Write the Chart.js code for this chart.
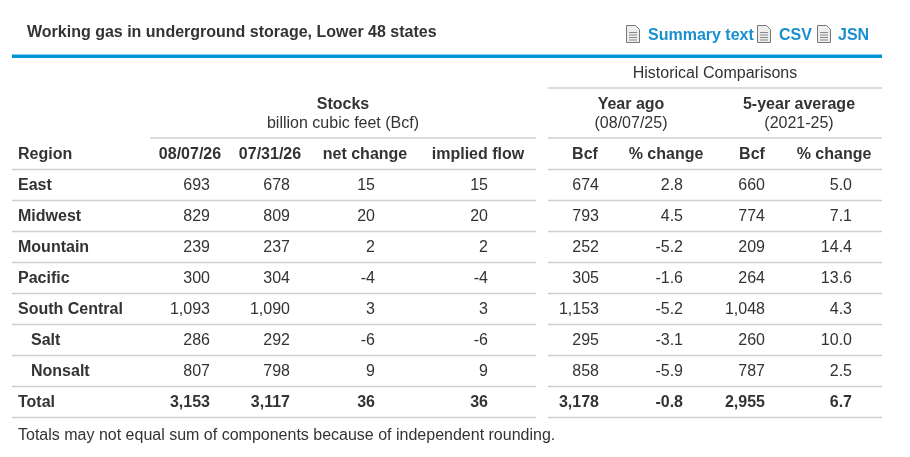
<!DOCTYPE html>
<html><head><meta charset="utf-8">
<script src="https://cdn.jsdelivr.net/npm/chart.js@4"></script>
<style>html,body{margin:0;padding:0;background:#fff}#wrap{width:910px;height:457px;position:relative}</style>
</head><body><div id="wrap"><canvas id="c"></canvas></div>
<script>
const title = "Working gas in underground storage, Lower 48 states";
const regions = ["Region","East","Midwest","Mountain","Pacific","South Central","Salt","Nonsalt","Total"];
const columns = ["08/07/26","07/31/26","net change","implied flow","Bcf","% change","Bcf","% change"];
const stocksCur = [693,829,239,300,1093,286,807,3153];
const stocksPrev = [678,809,237,304,1090,292,798,3117];
const netChange = [15,20,2,-4,3,-6,9,36];
const impliedFlow = [15,20,2,-4,3,-6,9,36];
const yearAgoBcf = [674,793,252,305,1153,295,858,3178];
const yearAgoPct = [2.8,4.5,-5.2,-1.6,-5.2,-3.1,-5.9,-0.8];
const fiveYrBcf = [660,774,209,264,1048,260,787,2955];
const fiveYrPct = [5.0,7.1,14.4,13.6,4.3,10.0,2.5,6.7];
const series = [stocksCur,stocksPrev,netChange,impliedFlow,yearAgoBcf,yearAgoPct,fiveYrBcf,fiveYrPct];
const isPct = [false,false,false,false,false,true,false,true];
const footnote = "Totals may not equal sum of components because of independent rounding.";

const colRight = [210,290,375,488,599,683,765,852];
const colHead = [190,270,365,478,585,666,752,834];
const TXT = '#333';
const FONT = '"Liberation Sans", Arial, sans-serif';
const FS = '16px ';
const DY = 1.5;

function fmt(v,p){ return p ? v.toFixed(1) : v.toLocaleString('en-US'); }
function icon(ctx,x,y){
  ctx.save();
  ctx.fillStyle='#eeeeee'; ctx.strokeStyle='#777'; ctx.lineWidth=1;
  ctx.beginPath(); ctx.moveTo(x+0.5,y+0.5); ctx.lineTo(x+9.5,y+0.5); ctx.lineTo(x+13.5,y+4.5); ctx.lineTo(x+13.5,y+17.5); ctx.lineTo(x+0.5,y+17.5); ctx.closePath(); ctx.fill(); ctx.stroke();
  ctx.strokeStyle='#888';
  for(let i=0;i<4;i++){ctx.beginPath();ctx.moveTo(x+3,y+7.5+i*2.5);ctx.lineTo(x+11,y+7.5+i*2.5);ctx.stroke();}
  ctx.restore();
}

const tablePlugin = {
  id:'table',
  afterDraw(chart){
    const ctx = chart.ctx, xs = chart.scales.x, ys = chart.scales.y;
    const X = v => xs.getPixelForValue(v);
    ctx.save();
    ctx.textBaseline='middle';
    ctx.fillStyle=TXT; ctx.font='bold '+FS+FONT; ctx.textAlign='left';
    ctx.fillText(title, 27, 31+DY);
    ctx.fillStyle='#1a8fd0'; ctx.font='bold '+FS+FONT;
    icon(ctx,626,25); ctx.fillText("Summary text",648,34+DY);
    icon(ctx,757,25); ctx.fillText("CSV",779,34+DY);
    icon(ctx,817,25); ctx.fillText("JSN",838,34+DY);
    ctx.fillStyle='#0096d6'; ctx.fillRect(12,54.5,870,3.5);
    ctx.fillStyle=TXT; ctx.textAlign='center';
    ctx.font=FS+FONT; ctx.fillText("Historical Comparisons",715,72+DY);
    ctx.font='bold '+FS+FONT;
    ctx.fillText("Stocks",343,103+DY); ctx.fillText("Year ago",631,103+DY); ctx.fillText("5-year average",799,103+DY);
    ctx.font=FS+FONT;
    ctx.fillText("billion cubic feet (Bcf)",343,122+DY); ctx.fillText("(08/07/25)",631,122+DY); ctx.fillText("(2021-25)",799,122+DY);
    ctx.strokeStyle='#cfcfcf'; ctx.lineWidth=1.5;
    const hl=(x1,x2,y)=>{ctx.beginPath();ctx.moveTo(x1,y);ctx.lineTo(x2,y);ctx.stroke();};
    hl(548,882,88); hl(150,536,138); hl(548,882,138);
    const step = ys.getPixelForValue(regions[1]) - ys.getPixelForValue(regions[0]);
    regions.forEach(r=>{ const y=Math.round(ys.getPixelForValue(r)+step/2)+0.5; hl(12,536,y); hl(548,882,y); });
    ctx.fillStyle=TXT; ctx.font='bold '+FS+FONT;
    const yH = ys.getPixelForValue(regions[0])+DY;
    columns.forEach((c,i)=>{ ctx.textAlign='center'; ctx.fillText(c,X(colHead[i]),yH); });
    regions.forEach((r,ri)=>{
      const y = ys.getPixelForValue(r)+DY;
      ctx.textAlign='left'; ctx.font='bold '+FS+FONT;
      const indent = (r==="Salt"||r==="Nonsalt") ? 31 : 18;
      ctx.fillText(r,indent,y);
      if(ri===0) return;
      const bold = r==="Total";
      ctx.font=(bold?'bold ':'')+FS+FONT; ctx.textAlign='right';
      series.forEach((s,ci)=>ctx.fillText(fmt(s[ri-1],isPct[ci]),X(colRight[ci]),y));
    });
    ctx.textAlign='left'; ctx.font=FS+FONT; ctx.fillStyle=TXT;
    ctx.fillText(footnote,18,434+DY);
    ctx.restore();
  }
};

new Chart(document.getElementById('c'),{
  type:'line',
  data:{ labels:regions, datasets: series.map(s=>({data:[], showLine:false, pointRadius:0})) },
  options:{
    responsive:true, maintainAspectRatio:false, animation:false,
    layout:{padding:{top:137.5,bottom:40.5,left:0,right:0}},
    plugins:{legend:{display:false},tooltip:{enabled:false}},
    scales:{
      x:{type:'linear',min:0,max:910,display:false},
      y:{type:'category',labels:regions,offset:true,display:false}
    }
  },
  plugins:[tablePlugin]
});
</script></body></html>
